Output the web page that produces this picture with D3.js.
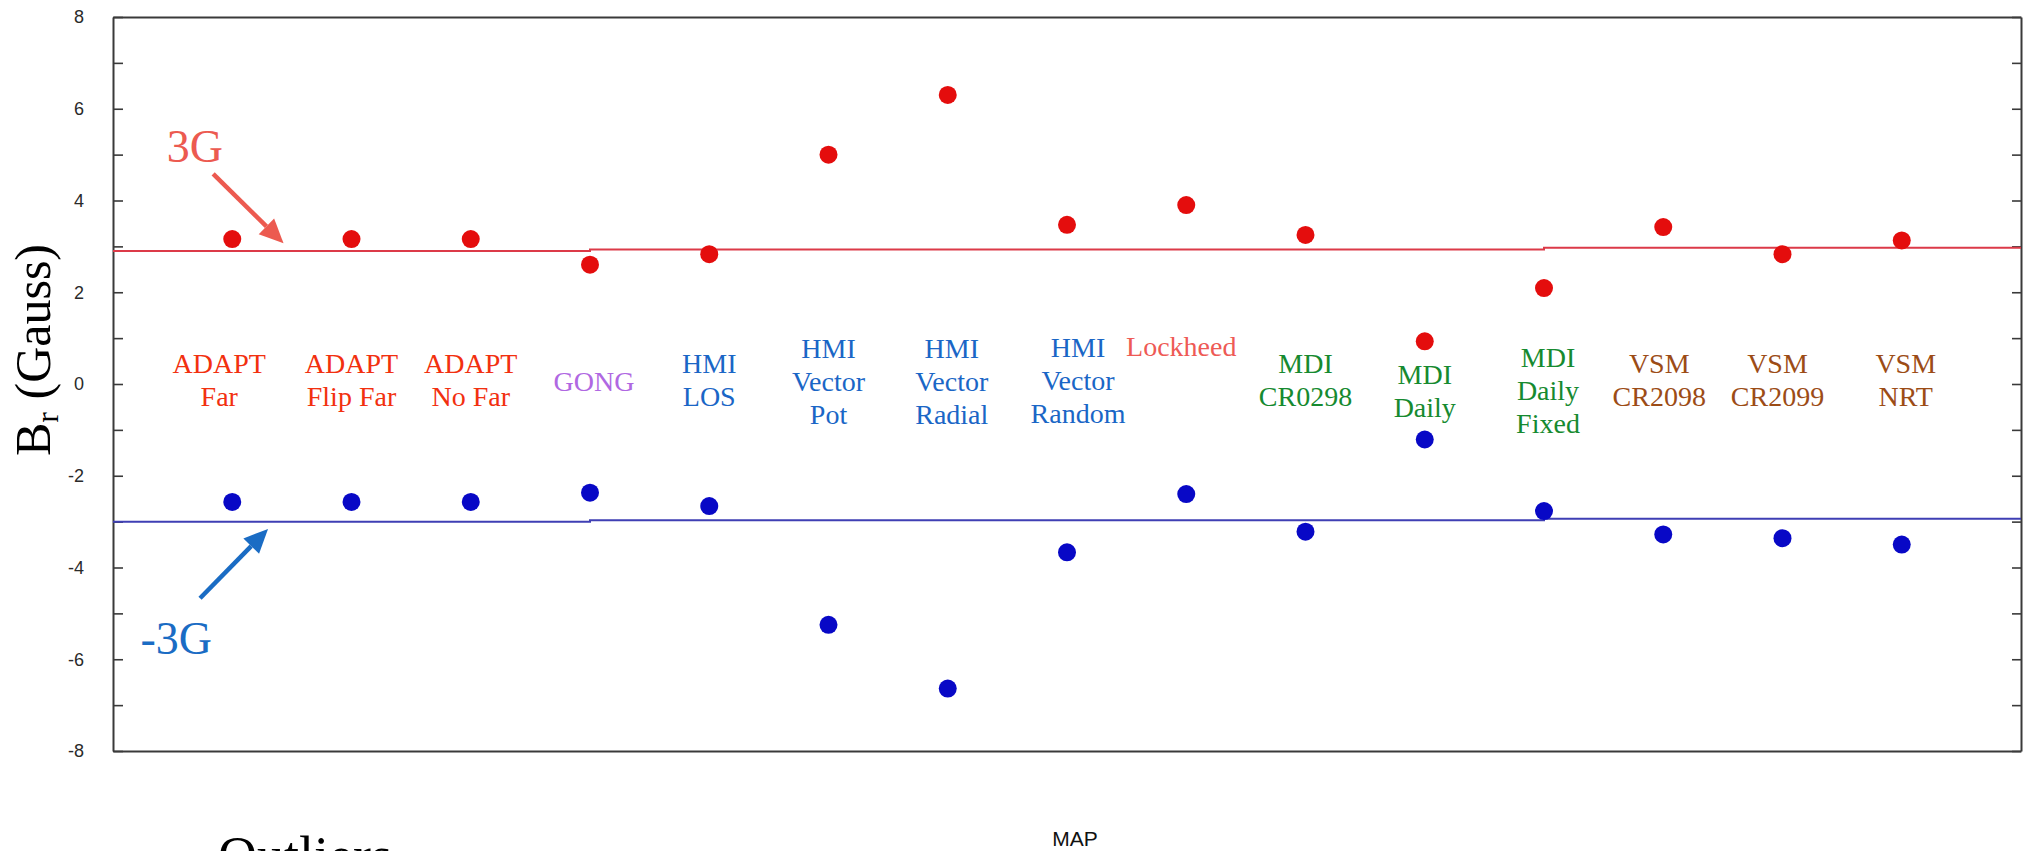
<!DOCTYPE html>
<html>
<head>
<meta charset="utf-8">
<script src="https://cdn.jsdelivr.net/npm/d3@7"></script>
<style>
  html, body { margin: 0; padding: 0; background: #fff; }
  svg { display: block; }
</style>
</head>
<body>
<svg id="chart" width="2030" height="851"></svg>
<script>
// ---------- data ----------
const categories = [
  "ADAPT Far", "ADAPT Flip Far", "ADAPT No Far", "GONG", "HMI LOS",
  "HMI Vector Pot", "HMI Vector Radial", "HMI Vector Random", "Lockheed",
  "MDI CR0298", "MDI Daily", "MDI Daily Fixed", "VSM CR2098", "VSM CR2099", "VSM NRT"
];
const labelLines = [
  ["ADAPT", "Far"], ["ADAPT", "Flip Far"], ["ADAPT", "No Far"], ["GONG"], ["HMI", "LOS"],
  ["HMI", "Vector", "Pot"], ["HMI", "Vector", "Radial"], ["HMI", "Vector", "Random"], ["Lockheed"],
  ["MDI", "CR0298"], ["MDI", "Daily"], ["MDI", "Daily", "Fixed"], ["VSM", "CR2098"], ["VSM", "CR2099"], ["VSM", "NRT"]
];
const groups = ["ADAPT", "ADAPT", "ADAPT", "GONG", "HMI", "HMI", "HMI", "HMI", "Lockheed",
  "MDI", "MDI", "MDI", "VSM", "VSM", "VSM"];
const maxValues = [3.16, 3.16, 3.16, 2.60, 2.83, 5.00, 6.30, 3.47, 3.90, 3.25, 0.93, 2.09, 3.42, 2.83, 3.13];
const minValues = [-2.57, -2.57, -2.57, -2.37, -2.66, -5.25, -6.64, -3.67, -2.40, -3.22, -1.21, -2.77, -3.28, -3.36, -3.50];
const yTicks = [-8, -7, -6, -5, -4, -3, -2, -1, 0, 1, 2, 3, 4, 5, 6, 7, 8];
// threshold lines (x in category units, y in Gauss)
const upperLineX = [0, 4, 4, 12, 12, 16];
const upperLineY = [2.90, 2.90, 2.93, 2.93, 2.97, 2.97];
const lowerLineX = [0, 4, 4, 12, 12, 16];
const lowerLineY = [-3.00, -3.00, -2.97, -2.97, -2.94, -2.94];

// ---------- styles / layout ----------
const groupColor = {
  ADAPT: "#f2300f", GONG: "#b068e2", HMI: "#1a66c6", Lockheed: "#ee5a55", MDI: "#168a30", VSM: "#9c4c16"
};
const labelFirstBaseline = [373, 373, 373, 391, 373, 358, 358, 357, 356, 373, 384, 367, 373, 373, 373];
const labelDx = [-13, 0, 0, 4, 0, 0, 4, 11, -5, 0, 0, 4, -4, -5, 4];
const lineGap = 33;

const W = 2030, H = 851;
const margin = { left: 113, right: W - 2021, top: 17, bottom: H - 751 };

const svg = d3.select("#chart");
const x = d3.scaleLinear().domain([0, 16]).range([margin.left, W - margin.right]);
const y = d3.scaleLinear().domain([-8, 8]).range([H - margin.bottom, margin.top]);

// frame / axes
const axisColor = "#3a3a3a";
const gL = svg.append("g").attr("transform", `translate(${x(0)},0)`)
  .call(d3.axisLeft(y).tickValues(yTicks).tickSizeInner(-10).tickSizeOuter(0).tickPadding(29)
    .tickFormat(d => d % 2 === 0 ? d : ""));
const gR = svg.append("g").attr("transform", `translate(${x(16)},0)`)
  .call(d3.axisRight(y).tickValues(yTicks).tickSizeInner(-9).tickSizeOuter(0).tickFormat(""));
const gT = svg.append("g").attr("transform", `translate(0,${y(8)})`)
  .call(d3.axisTop(x).tickValues([]).tickSizeOuter(0));
const gB = svg.append("g").attr("transform", `translate(0,${y(-8)})`)
  .call(d3.axisBottom(x).tickValues([]).tickSizeOuter(0));
[gL, gR, gT, gB].forEach(g => {
  g.select(".domain").attr("stroke", axisColor).attr("stroke-width", 2);
  g.selectAll(".tick line").attr("stroke", axisColor).attr("stroke-width", 1.6);
  g.selectAll(".tick text").attr("fill", "#2a2a2a")
    .style("font-family", "'Liberation Sans', Arial, sans-serif").style("font-size", "18px");
});

// threshold lines
const lineGen = d3.line().x(d => x(d[0])).y(d => y(d[1]));
svg.append("path").datum(upperLineX.map((v, i) => [v, upperLineY[i]]))
  .attr("d", lineGen).attr("fill", "none").attr("stroke", "#dc3a48").attr("stroke-width", 2);
svg.append("path").datum(lowerLineX.map((v, i) => [v, lowerLineY[i]]))
  .attr("d", lineGen).attr("fill", "none").attr("stroke", "#3f3fb4").attr("stroke-width", 2);

// points
svg.append("g").selectAll("circle.max").data(maxValues).join("circle")
  .attr("cx", (d, i) => x(i + 1)).attr("cy", d => y(d)).attr("r", 9).attr("fill", "#e40d0d");
svg.append("g").selectAll("circle.min").data(minValues).join("circle")
  .attr("cx", (d, i) => x(i + 1)).attr("cy", d => y(d)).attr("r", 9).attr("fill", "#0808c6");

// category labels
const lab = svg.append("g").style("font-family", "'Liberation Serif', 'Times New Roman', serif")
  .style("font-size", "28px").attr("text-anchor", "middle");
categories.forEach((c, i) => {
  const t = lab.append("text").attr("fill", groupColor[groups[i]]);
  labelLines[i].forEach((ln, k) => {
    t.append("tspan").attr("x", x(i + 1) + labelDx[i]).attr("y", labelFirstBaseline[i] + k * lineGap).text(ln);
  });
});

// y axis title
const yt = svg.append("text").attr("transform", `translate(50,${(248 + 452) / 2}) rotate(-90)`)
  .attr("text-anchor", "middle")
  .style("font-family", "'Liberation Serif', 'Times New Roman', serif").style("font-size", "50px").attr("fill", "#000");
yt.append("tspan").text("B");
yt.append("tspan").attr("baseline-shift", "-25%").style("font-size", "32px").text("r");
yt.append("tspan").text(" (Gauss)");

// x axis title
svg.append("text").attr("x", 1075).attr("y", 846).attr("text-anchor", "middle")
  .style("font-family", "'Liberation Sans', Arial, sans-serif").style("font-size", "21px").attr("fill", "#111").text("MAP");

// partially visible caption (cut off at the bottom edge, as in the original)
svg.append("text").attr("x", 218).attr("y", 874)
  .style("font-family", "'Liberation Serif', 'Times New Roman', serif").style("font-size", "54px").attr("fill", "#000").text("Outliers");

// annotations
function arrow(x1, y1, x2, y2, color) {
  const px1 = x(x1), py1 = y(y1), px2 = x(x2), py2 = y(y2);
  const ang = Math.atan2(py2 - py1, px2 - px1);
  const len = 24, hw = 11;
  const bx = px2 - len * Math.cos(ang), by = py2 - len * Math.sin(ang);
  svg.append("line").attr("x1", px1).attr("y1", py1).attr("x2", bx).attr("y2", by)
    .attr("stroke", color).attr("stroke-width", 4.5);
  const nx = -Math.sin(ang), ny = Math.cos(ang);
  svg.append("path").attr("d",
    `M${px2},${py2}L${bx + nx * hw},${by + ny * hw}L${bx - nx * hw},${by - ny * hw}Z`).attr("fill", color);
}
const annFont = "'Liberation Serif', 'Times New Roman', serif";
svg.append("text").attr("x", x(0.45)).attr("y", y(4.84)).style("font-family", annFont)
  .style("font-size", "46px").attr("fill", "#ec5a50").text("3G");
arrow(0.84, 4.58, 1.43, 3.07, "#ec5a50");
svg.append("text").attr("x", x(0.23)).attr("y", y(-5.88)).style("font-family", annFont)
  .style("font-size", "46px").attr("fill", "#1a6cc4").text("-3G");
arrow(0.73, -4.67, 1.30, -3.16, "#1a6cc4");
</script>
</body>
</html>
